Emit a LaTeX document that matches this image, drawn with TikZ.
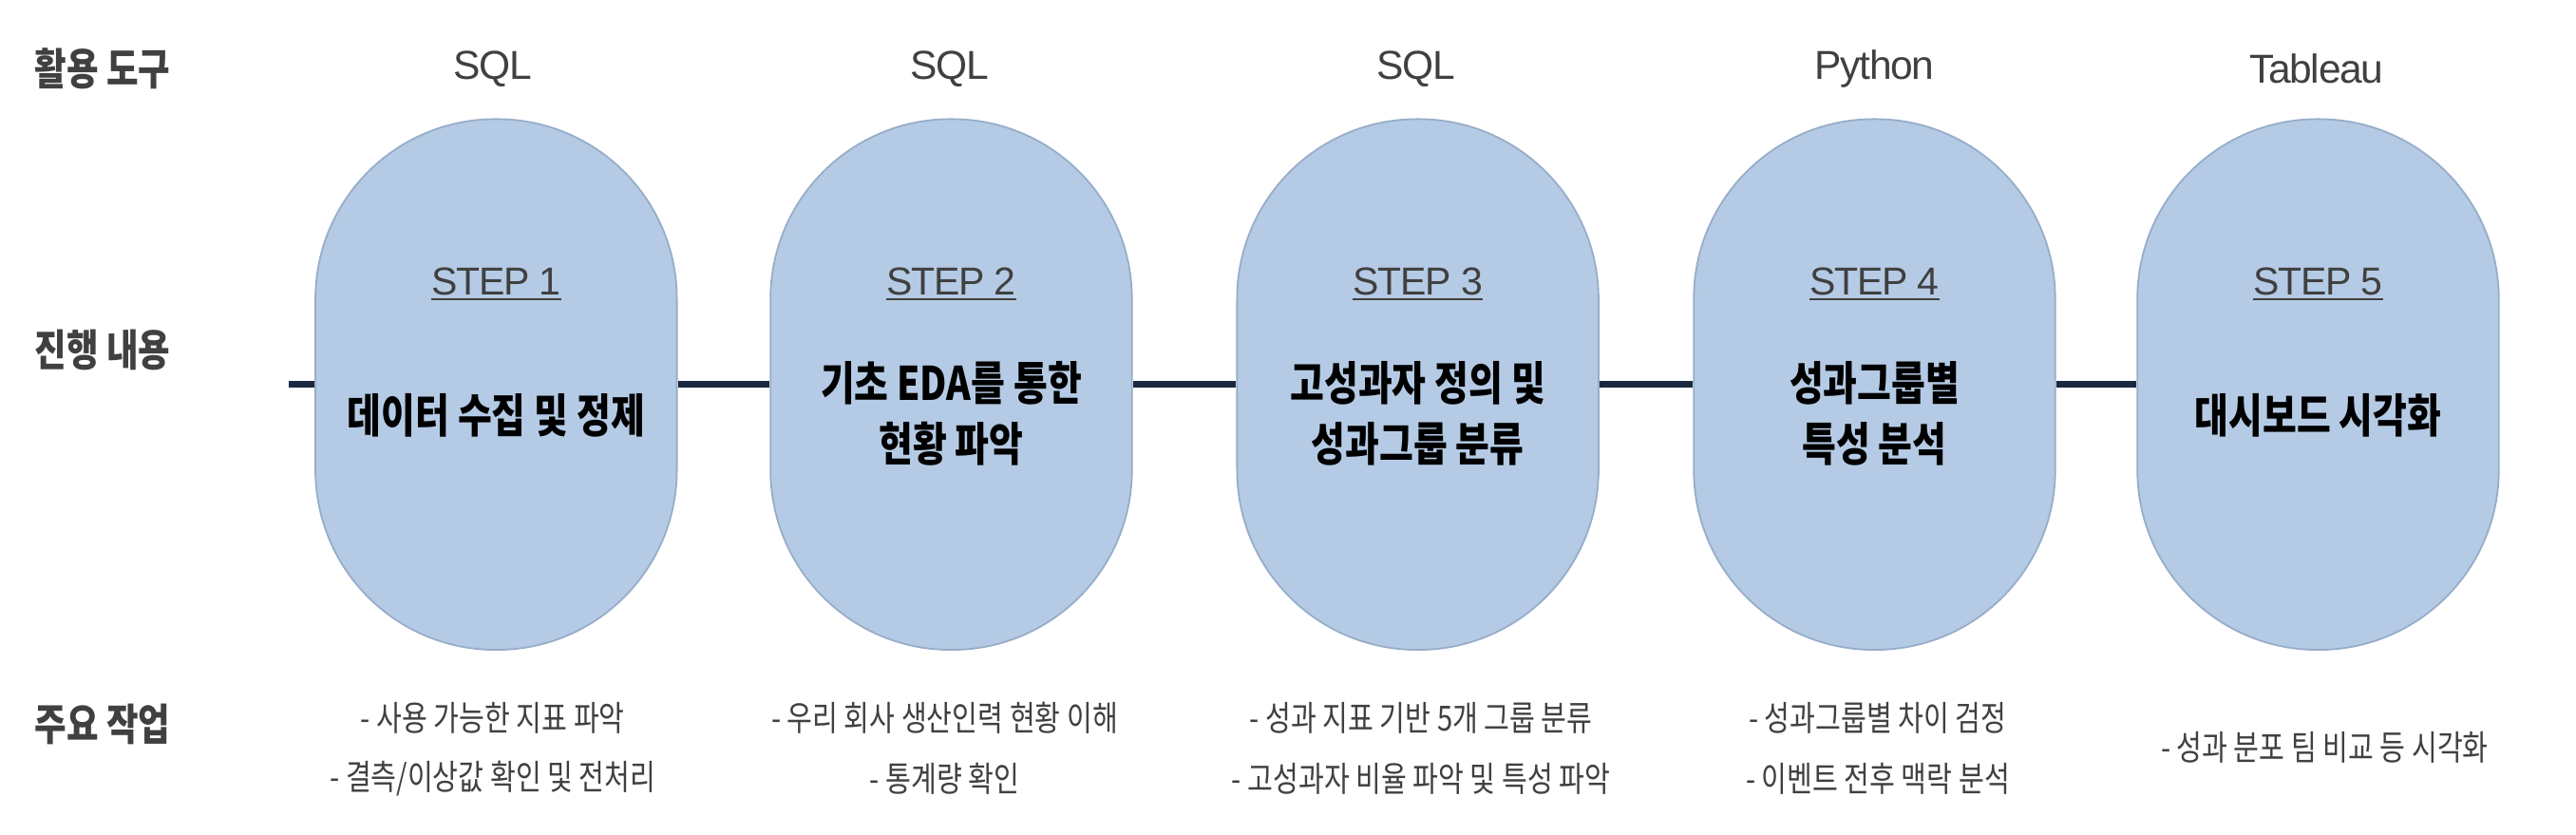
\documentclass[tikz,border=0pt]{standalone}
\usepackage{fontspec}
\setmainfont{Noto Sans CJK KR}[FakeStretch=0.8]
\newfontfamily\latinfont{Liberation Sans}[LetterSpace=-3]
\definecolor{stepfill}{HTML}{B5CBE5}
\definecolor{stepedge}{HTML}{97ADC9}
\definecolor{flowline}{HTML}{1A2940}
\definecolor{labelgray}{HTML}{404040}

\begin{document}
\begin{tikzpicture}[
	stepshape/.style={draw=stepedge, line width=0.6pt, fill=stepfill, rectangle, rounded corners=2.19cm, minimum width=4.4cm, minimum height=6.46cm, inner sep=0pt},
	rowlabel/.style={anchor=west, font=\fontsize{15}{17}\selectfont\bfseries, text=labelgray},
	toolname/.style={font=\latinfont\fontsize{14}{16}\selectfont, text=labelgray},
	steplabel/.style={font=\latinfont\fontsize{13.5}{16}\selectfont, text=labelgray},
	steptitle/.style={font=\fontsize{16}{21}\selectfont\bfseries, align=center},
	task/.style={font=\fontsize{12}{14}\selectfont, text=labelgray},
	timeline/.style={line width=2.3pt, flowline}]
		\useasboundingbox (0, 0) rectangle (31.36, 10.16);

		\node[rowlabel] (tools) at (0.30, 9.32) {활용 도구};
		\node[rowlabel] (content) at (0.30, 5.90) {진행 내용};
		\node[rowlabel] (work) at (0.30, 1.34) {주요 작업};

		\node[stepshape] (s1) at (6.04, 5.48) {};
		\node[stepshape] (s2) at (11.58, 5.48) {};
		\node[stepshape] (s3) at (17.26, 5.48) {};
		\node[stepshape] (s4) at (22.82, 5.48) {};
		\node[stepshape] (s5) at (28.22, 5.48) {};

		\coordinate (start) at (3.52, 5.48);
		\draw[timeline] (start) -- (s1) -- (s2) -- (s3) -- (s4) -- (s5);

		\node[toolname] (tool1) at (6.00, 9.32) {SQL};
		\node[toolname] (tool2) at (11.56, 9.32) {SQL};
		\node[toolname] (tool3) at (17.24, 9.32) {SQL};
		\node[toolname] (tool4) at (22.82, 9.32) {Python};
		\node[toolname] (tool5) at (28.20, 9.32) {Tableau};

		\node[steplabel] (st1) at (6.04, 6.70) {\underline{STEP 1}};
		\node[steplabel] (st2) at (11.58, 6.70) {\underline{STEP 2}};
		\node[steplabel] (st3) at (17.26, 6.70) {\underline{STEP 3}};
		\node[steplabel] (st4) at (22.82, 6.70) {\underline{STEP 4}};
		\node[steplabel] (st5) at (28.22, 6.70) {\underline{STEP 5}};

		\node[steptitle] (t1) at (6.04, 5.10) {데이터 수집 및 정제};
		\node[steptitle] (t2) at (11.58, 5.13) {기초 EDA를 통한\\현황 파악};
		\node[steptitle] (t3) at (17.26, 5.13) {고성과자 정의 및\\성과그룹 분류};
		\node[steptitle] (t4) at (22.82, 5.13) {성과그룹별\\특성 분석};
		\node[steptitle] (t5) at (28.22, 5.10) {대시보드 시각화};

		\node[task] (w1a) at (6.00, 1.42) {- 사용 가능한 지표 파악};
		\node[task] (w1b) at (6.00, 0.68) {- 결측/이상값 확인 및 전처리};
		\node[task] (w2a) at (11.50, 1.42) {- 우리 회사 생산인력 현황 이해};
		\node[task] (w2b) at (11.50, 0.68) {- 통계량 확인};
		\node[task] (w3a) at (17.30, 1.42) {- 성과 지표 기반 5개 그룹 분류};
		\node[task] (w3b) at (17.30, 0.68) {- 고성과자 비율 파악 및 특성 파악};
		\node[task] (w4a) at (22.86, 1.42) {- 성과그룹별 차이 검정};
		\node[task] (w4b) at (22.86, 0.68) {- 이벤트 전후 맥락 분석};
		\node[task] (w5a) at (28.30, 1.06) {- 성과 분포 팀 비교 등 시각화};
\end{tikzpicture}
\end{document}
